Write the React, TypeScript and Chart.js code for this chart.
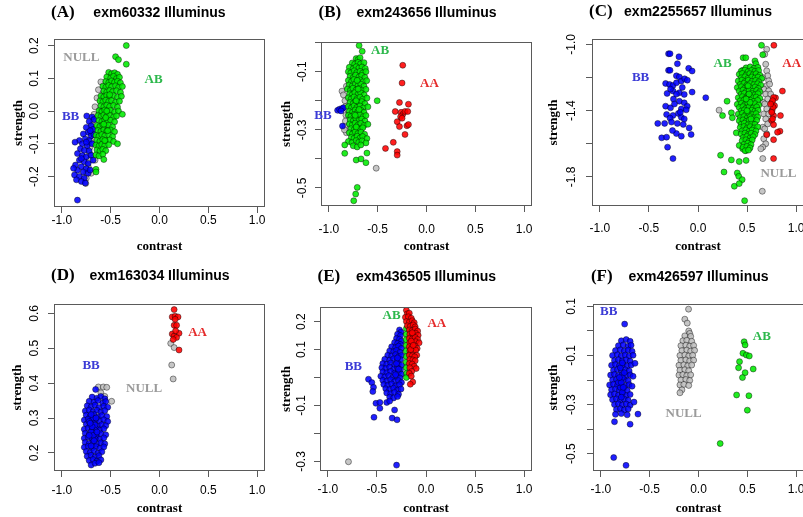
import React, { useEffect, useRef } from 'react';
import { Chart, registerables } from 'chart.js';
Chart.register(...registerables);

type Pt = [number, number];

// ---------- shared axis data ----------
const xTicks = [-1, -0.5, 0, 0.5, 1];
const xRange: [number, number] = [-1.08, 1.08];

const GENO_COLOR: Record<string, string> = { AA: 'rgba(255,0,0,0.88)', AB: 'rgba(0,235,0,0.88)', BB: 'rgba(0,0,255,0.88)', NULL: 'rgba(190,190,190,0.88)' };
const TAG_COLOR: Record<string, string> = { AA: '#e52b2b', AB: '#2db84c', BB: '#3b3bd6', NULL: '#9b9b9b' };

// ---------- panel A: exm60332 ----------
const aAB: Pt[] = [
  [-0.34, 0.2], [-0.45, 0.166], [-0.42, 0.157], [-0.34, 0.143],
  [-0.52, 0.118], [-0.49, 0.114], [-0.46, 0.117], [-0.43, 0.112],
  [-0.54, 0.104], [-0.5, 0.101], [-0.47, 0.106], [-0.44, 0.099], [-0.41, 0.103],
  [-0.55, 0.09], [-0.52, 0.087], [-0.49, 0.092], [-0.46, 0.088], [-0.43, 0.091], [-0.4, 0.086],
  [-0.58, 0.076], [-0.55, 0.073], [-0.52, 0.078], [-0.49, 0.074], [-0.45, 0.077], [-0.42, 0.072], [-0.38, 0.075],
  [-0.57, 0.061], [-0.54, 0.058], [-0.51, 0.063], [-0.48, 0.059], [-0.44, 0.062], [-0.4, 0.057],
  [-0.6, 0.046], [-0.57, 0.043], [-0.54, 0.048], [-0.51, 0.044], [-0.47, 0.047], [-0.43, 0.042], [-0.39, 0.045],
  [-0.61, 0.031], [-0.58, 0.028], [-0.55, 0.033], [-0.52, 0.029], [-0.49, 0.032], [-0.45, 0.027], [-0.41, 0.03],
  [-0.6, 0.016], [-0.57, 0.013], [-0.54, 0.018], [-0.51, 0.014], [-0.47, 0.017], [-0.43, 0.012],
  [-0.62, 0.001], [-0.59, -0.002], [-0.56, 0.003], [-0.53, -0.001], [-0.5, 0.002], [-0.46, -0.003], [-0.42, 0.0], [-0.38, -0.01],
  [-0.63, -0.014], [-0.6, -0.017], [-0.57, -0.012], [-0.54, -0.016], [-0.51, -0.013], [-0.47, -0.018], [-0.44, -0.015],
  [-0.62, -0.029], [-0.59, -0.032], [-0.56, -0.027], [-0.53, -0.031], [-0.5, -0.028], [-0.46, -0.033],
  [-0.64, -0.044], [-0.61, -0.047], [-0.58, -0.042], [-0.55, -0.046], [-0.52, -0.043], [-0.48, -0.048],
  [-0.63, -0.059], [-0.6, -0.062], [-0.57, -0.057], [-0.54, -0.061], [-0.5, -0.058], [-0.46, -0.063],
  [-0.65, -0.074], [-0.62, -0.077], [-0.59, -0.072], [-0.56, -0.076], [-0.52, -0.073], [-0.48, -0.078],
  [-0.64, -0.089], [-0.61, -0.092], [-0.58, -0.087], [-0.55, -0.091], [-0.51, -0.088], [-0.47, -0.093], [-0.43, -0.1],
  [-0.65, -0.104], [-0.62, -0.107], [-0.59, -0.102], [-0.56, -0.106], [-0.52, -0.103],
  [-0.64, -0.119], [-0.61, -0.122], [-0.58, -0.117], [-0.55, -0.121],
  [-0.65, -0.134], [-0.62, -0.137], [-0.58, -0.132],
  [-0.57, -0.148], [-0.65, -0.178], [-0.65, -0.186],
  [-0.55, -0.02], [-0.53, -0.06], [-0.56, -0.09], [-0.51, 0.05], [-0.54, 0.0], [-0.57, -0.04],
];
const aBB: Pt[] = [
  [-0.745, -0.015], [-0.69, -0.018], [-0.67, -0.026], [-0.72, -0.032], [-0.7, -0.045], [-0.75, -0.05], [-0.68, -0.056],
  [-0.73, -0.065], [-0.78, -0.07], [-0.7, -0.076], [-0.76, -0.085], [-0.82, -0.09], [-0.865, -0.095], [-0.72, -0.09],
  [-0.79, -0.1], [-0.74, -0.106], [-0.69, -0.1], [-0.81, -0.115], [-0.77, -0.12], [-0.72, -0.122], [-0.84, -0.13],
  [-0.79, -0.136], [-0.75, -0.14], [-0.7, -0.135], [-0.82, -0.15], [-0.77, -0.155], [-0.73, -0.16], [-0.86, -0.165],
  [-0.8, -0.17], [-0.75, -0.176], [-0.84, -0.181], [-0.78, -0.186], [-0.73, -0.19], [-0.87, -0.195], [-0.82, -0.2],
  [-0.77, -0.205], [-0.85, -0.21], [-0.8, -0.215], [-0.76, -0.22], [-0.84, -0.272], [-0.67, -0.072], [-0.68, -0.15],
  [-0.71, -0.18], [-0.88, -0.175], [-0.75, -0.095], [-0.8, -0.145], [-0.71, -0.06],
];
const aNULL: Pt[] = [
  [-0.6, 0.089], [-0.625, 0.065], [-0.64, 0.04], [-0.66, 0.013], [-0.67, -0.01], [-0.68, -0.028], [-0.69, -0.05],
  [-0.7, -0.068], [-0.705, -0.09], [-0.71, -0.11], [-0.715, -0.13], [-0.72, -0.15], [-0.73, -0.17], [-0.745, -0.19],
  [-0.75, -0.205], [-0.755, -0.221], [-0.58, 0.05], [-0.6, 0.0], [-0.62, -0.05], [-0.64, -0.1], [-0.66, -0.15], [-0.7, -0.19],
];
const aYTicks = [-0.2, -0.1, 0, 0.1, 0.2];
const aYLabels = [-0.2, -0.1, 0, 0.1, 0.2];
const aYRange: [number, number] = [-0.293, 0.22];

// ---------- panel B: exm243656 ----------
const bAB: Pt[] = [
  [-0.69, -0.01], [-0.658, -0.03],
  [-0.72, -0.055], [-0.7, -0.058], [-0.68, -0.052],
  [-0.76, -0.07], [-0.735, -0.074], [-0.7, -0.068], [-0.675, -0.073], [-0.64, -0.069],
  [-0.79, -0.085], [-0.752, -0.09], [-0.72, -0.083], [-0.693, -0.088], [-0.66, -0.084], [-0.627, -0.089],
  [-0.8, -0.1], [-0.775, -0.104], [-0.74, -0.097], [-0.713, -0.103], [-0.68, -0.099], [-0.654, -0.105], [-0.62, -0.1],
  [-0.782, -0.116], [-0.75, -0.12], [-0.726, -0.112], [-0.69, -0.118], [-0.664, -0.113], [-0.63, -0.12],
  [-0.8, -0.13], [-0.768, -0.134], [-0.743, -0.127], [-0.71, -0.133], [-0.683, -0.128], [-0.65, -0.135], [-0.612, -0.131],
  [-0.792, -0.146], [-0.76, -0.149], [-0.728, -0.142], [-0.7, -0.148], [-0.672, -0.143], [-0.64, -0.15],
  [-0.81, -0.16], [-0.779, -0.164], [-0.753, -0.157], [-0.72, -0.163], [-0.688, -0.158], [-0.662, -0.165], [-0.62, -0.161],
  [-0.787, -0.176], [-0.76, -0.179], [-0.733, -0.172], [-0.7, -0.178], [-0.674, -0.173], [-0.638, -0.18],
  [-0.8, -0.19], [-0.772, -0.194], [-0.742, -0.187], [-0.711, -0.193], [-0.68, -0.188], [-0.654, -0.195], [-0.61, -0.191],
  [-0.783, -0.206], [-0.75, -0.209], [-0.724, -0.202], [-0.69, -0.208], [-0.662, -0.203], [-0.63, -0.21],
  [-0.8, -0.22], [-0.768, -0.224], [-0.741, -0.217], [-0.712, -0.223], [-0.68, -0.218], [-0.648, -0.225], [-0.6, -0.221],
  [-0.79, -0.236], [-0.757, -0.239], [-0.73, -0.232], [-0.703, -0.238], [-0.668, -0.233], [-0.64, -0.24],
  [-0.8, -0.25], [-0.774, -0.254], [-0.74, -0.247], [-0.71, -0.253], [-0.684, -0.248], [-0.65, -0.255], [-0.62, -0.251],
  [-0.781, -0.266], [-0.75, -0.269], [-0.722, -0.262], [-0.69, -0.268], [-0.663, -0.263], [-0.63, -0.27],
  [-0.79, -0.28], [-0.762, -0.284], [-0.73, -0.277], [-0.7, -0.283], [-0.673, -0.278], [-0.64, -0.285], [-0.6, -0.281],
  [-0.772, -0.296], [-0.74, -0.299], [-0.713, -0.292], [-0.68, -0.298], [-0.652, -0.293],
  [-0.79, -0.31], [-0.758, -0.314], [-0.73, -0.307], [-0.702, -0.313], [-0.67, -0.308], [-0.634, -0.315],
  [-0.77, -0.326], [-0.742, -0.329], [-0.71, -0.322], [-0.68, -0.328], [-0.653, -0.323], [-0.61, -0.33],
  [-0.8, -0.34], [-0.763, -0.344], [-0.72, -0.337], [-0.694, -0.343], [-0.66, -0.338], [-0.62, -0.345],
  [-0.75, -0.355], [-0.71, -0.359], [-0.672, -0.352],
  [-0.72, -0.2], [-0.7, -0.16], [-0.73, -0.25], [-0.71, -0.13], [-0.69, -0.23], [-0.72, -0.29],
  [-0.505, -0.2], [-0.837, -0.352], [-0.837, -0.381], [-0.72, -0.404], [-0.67, -0.4], [-0.62, -0.413], [-0.61, -0.38],
  [-0.709, -0.498], [-0.725, -0.521], [-0.745, -0.544],
];
const bBB: Pt[] = [
  [-0.91, -0.233], [-0.89, -0.229], [-0.865, -0.227], [-0.85, -0.224], [-0.875, -0.235], [-0.86, -0.287],
];
const bAA: Pt[] = [
  [-0.243, -0.078], [-0.25, -0.139], [-0.277, -0.206], [-0.185, -0.212], [-0.32, -0.237], [-0.26, -0.24],
  [-0.243, -0.247], [-0.22, -0.237], [-0.192, -0.237], [-0.3, -0.272], [-0.277, -0.289], [-0.2, -0.286],
  [-0.185, -0.282], [-0.22, -0.316], [-0.34, -0.343], [-0.42, -0.364], [-0.3, -0.375], [-0.3, -0.387],
  [-0.265, -0.255], [-0.25, -0.26],
];
const bNULL: Pt[] = [
  [-0.865, -0.167], [-0.85, -0.18], [-0.835, -0.2], [-0.83, -0.22], [-0.825, -0.25], [-0.83, -0.27],
  [-0.835, -0.29], [-0.82, -0.31], [-0.82, -0.15], [-0.515, -0.432], [-0.84, -0.3], [-0.81, -0.23],
];
const bYTicks = [-0.5, -0.4, -0.3, -0.2, -0.1, 0];
const bYLabels = [-0.5, -0.3, -0.1];
const bYRange: [number, number] = [-0.562, 0.002];

// ---------- panel C: exm2255657 ----------
const cBB: Pt[] = [
  [-0.3, -1.057], [-0.285, -1.057], [-0.194, -1.075], [-0.3, -1.157], [-0.285, -1.157], [-0.21, -1.117],
  [-0.095, -1.145], [-0.06, -1.161], [-0.22, -1.19], [-0.19, -1.197], [-0.33, -1.236], [-0.29, -1.242],
  [-0.255, -1.248], [-0.22, -1.232], [-0.17, -1.222], [-0.136, -1.208], [-0.109, -1.216], [-0.06, -1.288],
  [-0.315, -1.296], [-0.255, -1.282], [-0.19, -1.292], [-0.14, -1.302], [0.079, -1.322], [-0.33, -1.373],
  [-0.28, -1.383], [-0.19, -1.343], [-0.14, -1.353], [-0.11, -1.373], [-0.17, -1.39], [-0.12, -1.395],
  [-0.32, -1.423], [-0.255, -1.429], [-0.2, -1.417], [-0.285, -1.445], [-0.17, -1.44], [-0.41, -1.477],
  [-0.34, -1.477], [-0.27, -1.469], [-0.21, -1.477], [-0.15, -1.483], [-0.09, -1.504], [-0.37, -1.564],
  [-0.32, -1.56], [-0.22, -1.538], [-0.17, -1.554], [-0.07, -1.544], [-0.31, -1.62], [-0.255, -1.689],
  [-0.25, -1.33], [-0.22, -1.3], [-0.28, -1.27], [-0.16, -1.26], [-0.24, -1.36], [-0.18, -1.41],
  [-0.26, -1.52], [-0.14, -1.45],
];
const cAB: Pt[] = [
  [0.647, -1.006], [0.66, -1.063], [0.46, -1.081], [0.487, -1.081], [0.58, -1.1], [0.59, -1.117], [0.455, -1.157],
  [0.296, -1.343], [0.25, -1.43], [0.34, -1.413], [0.35, -1.443], [0.39, -1.534], [0.42, -1.61], [0.455, -1.63],
  [0.49, -1.64], [0.23, -1.669], [0.34, -1.697], [0.42, -1.707], [0.49, -1.7], [0.265, -1.77], [0.4, -1.776],
  [0.415, -1.796], [0.45, -1.816], [0.37, -1.856], [0.42, -1.84], [0.475, -1.943],
  [0.49, -1.142], [0.532, -1.136], [0.57, -1.145], [0.61, -1.139],
  [0.44, -1.162], [0.478, -1.156], [0.51, -1.165], [0.548, -1.157], [0.58, -1.163], [0.618, -1.158],
  [0.42, -1.181], [0.452, -1.176], [0.49, -1.185], [0.528, -1.177], [0.56, -1.184], [0.592, -1.178], [0.63, -1.186],
  [0.44, -1.202], [0.478, -1.196], [0.51, -1.205], [0.548, -1.197], [0.58, -1.203], [0.612, -1.198], [0.65, -1.206],
  [0.41, -1.221], [0.448, -1.216], [0.48, -1.225], [0.512, -1.217], [0.55, -1.224], [0.588, -1.218], [0.62, -1.226],
  [0.43, -1.242], [0.468, -1.236], [0.5, -1.245], [0.532, -1.237], [0.57, -1.243], [0.608, -1.238], [0.64, -1.246],
  [0.4, -1.261], [0.442, -1.256], [0.475, -1.265], [0.508, -1.257], [0.545, -1.264], [0.582, -1.258], [0.615, -1.266],
  [0.42, -1.282], [0.458, -1.276], [0.49, -1.285], [0.522, -1.277], [0.56, -1.283], [0.598, -1.278], [0.63, -1.286],
  [0.44, -1.301], [0.472, -1.296], [0.51, -1.305], [0.548, -1.297], [0.58, -1.304], [0.612, -1.298],
  [0.41, -1.322], [0.452, -1.316], [0.485, -1.325], [0.518, -1.317], [0.555, -1.323], [0.592, -1.318], [0.63, -1.326],
  [0.43, -1.341], [0.468, -1.336], [0.5, -1.345], [0.532, -1.337], [0.57, -1.344], [0.608, -1.338],
  [0.4, -1.362], [0.442, -1.356], [0.475, -1.365], [0.508, -1.357], [0.545, -1.363], [0.582, -1.358], [0.62, -1.366],
  [0.42, -1.381], [0.458, -1.376], [0.49, -1.385], [0.522, -1.377], [0.56, -1.384], [0.598, -1.378],
  [0.44, -1.402], [0.472, -1.396], [0.51, -1.405], [0.548, -1.397], [0.58, -1.403], [0.612, -1.398],
  [0.41, -1.421], [0.452, -1.416], [0.485, -1.425], [0.518, -1.417], [0.555, -1.424], [0.592, -1.418],
  [0.43, -1.442], [0.468, -1.436], [0.5, -1.445], [0.532, -1.437], [0.57, -1.443], [0.608, -1.438],
  [0.42, -1.461], [0.458, -1.456], [0.49, -1.465], [0.522, -1.457], [0.56, -1.464], [0.598, -1.458],
  [0.44, -1.482], [0.472, -1.476], [0.51, -1.485], [0.548, -1.477], [0.58, -1.483],
  [0.43, -1.501], [0.468, -1.496], [0.5, -1.505], [0.532, -1.497], [0.57, -1.504], [0.608, -1.498],
  [0.45, -1.522], [0.488, -1.516], [0.52, -1.525], [0.552, -1.517], [0.59, -1.523],
  [0.44, -1.541], [0.478, -1.536], [0.51, -1.545], [0.542, -1.537], [0.58, -1.544],
  [0.46, -1.562], [0.498, -1.556], [0.53, -1.565], [0.562, -1.557],
  [0.45, -1.581], [0.488, -1.576], [0.52, -1.585], [0.552, -1.577],
  [0.47, -1.602], [0.508, -1.596], [0.54, -1.605],
  [0.46, -1.621], [0.498, -1.616], [0.53, -1.625],
  [0.48, -1.642], [0.515, -1.638],
  [0.52, -1.3], [0.5, -1.4], [0.53, -1.35], [0.51, -1.25], [0.54, -1.45], [0.49, -1.33],
];
const cAA: Pt[] = [
  [0.773, -1.006], [0.86, -1.282], [0.79, -1.323], [0.77, -1.32], [0.755, -1.35], [0.78, -1.37], [0.755, -1.4],
  [0.77, -1.43], [0.75, -1.46], [0.77, -1.485], [0.84, -1.43], [0.835, -1.524], [0.81, -1.53], [0.7, -1.545],
  [0.77, -1.575], [0.77, -1.689], [0.76, -1.34], [0.765, -1.38], [0.75, -1.41], [0.76, -1.45], [0.74, -1.36],
];
const cNULL: Pt[] = [
  [0.7, -1.03], [0.68, -1.06], [0.69, -1.12], [0.7, -1.16], [0.71, -1.19], [0.72, -1.22], [0.66, -1.2],
  [0.7, -1.25], [0.73, -1.24], [0.67, -1.27], [0.72, -1.28], [0.69, -1.3], [0.74, -1.3], [0.71, -1.33],
  [0.66, -1.35], [0.68, -1.36], [0.7, -1.39], [0.67, -1.42], [0.72, -1.42], [0.69, -1.45], [0.71, -1.48],
  [0.66, -1.5], [0.68, -1.51], [0.7, -1.54], [0.67, -1.57], [0.69, -1.6], [0.66, -1.62], [0.64, -1.63],
  [0.215, -1.397], [0.66, -1.689], [0.655, -1.886],
];
const cYTicks = [-1.8, -1.6, -1.4, -1.2, -1.0];
const cYLabels = [-1.8, -1.4, -1.0];
const cYRange: [number, number] = [-1.975, -0.968];

// ---------- panel D: exm163034 ----------
const dBB: Pt[] = [
  [-0.654, 0.382],
  [-0.69, 0.36], [-0.64, 0.357], [-0.6, 0.362], [-0.56, 0.355],
  [-0.72, 0.348], [-0.67, 0.345], [-0.63, 0.35], [-0.58, 0.343], [-0.55, 0.347],
  [-0.74, 0.335], [-0.7, 0.332], [-0.66, 0.337], [-0.62, 0.33], [-0.57, 0.334], [-0.53, 0.331],
  [-0.76, 0.32], [-0.72, 0.323], [-0.68, 0.318], [-0.64, 0.322], [-0.6, 0.317], [-0.56, 0.321],
  [-0.75, 0.308], [-0.71, 0.305], [-0.67, 0.31], [-0.63, 0.303], [-0.59, 0.307], [-0.54, 0.304],
  [-0.77, 0.294], [-0.73, 0.297], [-0.69, 0.292], [-0.65, 0.296], [-0.61, 0.291], [-0.57, 0.295], [-0.53, 0.29],
  [-0.75, 0.282], [-0.71, 0.279], [-0.67, 0.284], [-0.63, 0.277], [-0.59, 0.281], [-0.55, 0.278],
  [-0.77, 0.268], [-0.73, 0.271], [-0.69, 0.266], [-0.65, 0.27], [-0.61, 0.265], [-0.57, 0.269],
  [-0.76, 0.256], [-0.72, 0.253], [-0.68, 0.258], [-0.64, 0.251], [-0.6, 0.255], [-0.55, 0.252],
  [-0.77, 0.242], [-0.73, 0.245], [-0.69, 0.24], [-0.65, 0.244], [-0.61, 0.239], [-0.57, 0.243],
  [-0.76, 0.23], [-0.72, 0.227], [-0.68, 0.232], [-0.64, 0.225], [-0.6, 0.229], [-0.56, 0.226],
  [-0.77, 0.216], [-0.73, 0.219], [-0.69, 0.214], [-0.65, 0.218], [-0.61, 0.213], [-0.57, 0.217],
  [-0.75, 0.204], [-0.71, 0.201], [-0.67, 0.206], [-0.63, 0.199], [-0.59, 0.203],
  [-0.74, 0.19], [-0.7, 0.193], [-0.66, 0.188], [-0.62, 0.192],
  [-0.72, 0.178], [-0.68, 0.181], [-0.64, 0.176], [-0.6, 0.18],
  [-0.7, 0.165], [-0.66, 0.17], [-0.62, 0.172],
  [-0.7, 0.26], [-0.68, 0.3], [-0.66, 0.24], [-0.7, 0.22], [-0.72, 0.29], [-0.66, 0.28], [-0.68, 0.25],
  [-0.7, 0.31], [-0.64, 0.26], [-0.72, 0.25], [-0.69, 0.275], [-0.67, 0.235], [-0.71, 0.285], [-0.65, 0.3],
];
const dNULL: Pt[] = [
  [-0.626, 0.389], [-0.575, 0.389], [-0.54, 0.388], [-0.49, 0.348], [0.115, 0.514], [0.15, 0.502],
  [0.125, 0.452], [0.14, 0.412], [-0.6, 0.372], [-0.56, 0.362],
];
const dAA: Pt[] = [
  [0.15, 0.611], [0.13, 0.59], [0.16, 0.592], [0.19, 0.59], [0.16, 0.583], [0.15, 0.566], [0.175, 0.566],
  [0.13, 0.541], [0.2, 0.543], [0.15, 0.535], [0.175, 0.531], [0.2, 0.495], [0.14, 0.525], [0.165, 0.55],
];
const dYTicks = [0.2, 0.3, 0.4, 0.5, 0.6];
const dYLabels = [0.2, 0.3, 0.4, 0.5, 0.6];
const dYRange: [number, number] = [0.148, 0.627];

// ---------- panel E: exm436505 ----------
const eAA: Pt[] = [
  [-0.2, 0.24], [-0.19, 0.228], [-0.17, 0.23], [-0.21, 0.215], [-0.18, 0.217], [-0.15, 0.212],
  [-0.2, 0.2], [-0.17, 0.198], [-0.14, 0.203], [-0.12, 0.196],
  [-0.19, 0.185], [-0.16, 0.183], [-0.13, 0.188], [-0.11, 0.181],
  [-0.17, 0.17], [-0.14, 0.168], [-0.11, 0.173], [-0.085, 0.166],
  [-0.165, 0.155], [-0.135, 0.153], [-0.105, 0.158], [-0.08, 0.151],
  [-0.17, 0.14], [-0.14, 0.138], [-0.11, 0.143], [-0.085, 0.136],
  [-0.165, 0.125], [-0.135, 0.123], [-0.105, 0.128], [-0.07, 0.124],
  [-0.17, 0.11], [-0.14, 0.108], [-0.11, 0.113], [-0.09, 0.104],
  [-0.165, 0.095], [-0.135, 0.093], [-0.105, 0.098], [-0.094, 0.08],
  [-0.17, 0.08], [-0.14, 0.078], [-0.115, 0.074],
  [-0.165, 0.065], [-0.135, 0.063], [-0.11, 0.06],
  [-0.17, 0.05], [-0.14, 0.048], [-0.12, 0.04],
  [-0.165, 0.035], [-0.1, 0.032], [-0.145, 0.022],
  [-0.17, 0.015], [-0.15, 0.005], [-0.135, -0.016], [-0.16, -0.024],
  [-0.15, 0.13], [-0.14, 0.16], [-0.155, 0.1], [-0.13, 0.115],
];
const eAB: Pt[] = [
  [-0.2, 0.175], [-0.2, 0.155], [-0.202, 0.135], [-0.2, 0.115], [-0.202, 0.095],
  [-0.2, 0.075], [-0.202, 0.055], [-0.2, 0.035], [-0.198, 0.015], [-0.2, 0.0],
];
const eBB: Pt[] = [
  [-0.27, 0.17], [-0.255, 0.162], [-0.29, 0.155], [-0.26, 0.15],
  [-0.3, 0.14], [-0.27, 0.137], [-0.25, 0.13],
  [-0.32, 0.125], [-0.29, 0.122], [-0.26, 0.118],
  [-0.35, 0.11], [-0.31, 0.107], [-0.28, 0.112], [-0.25, 0.104],
  [-0.37, 0.095], [-0.33, 0.092], [-0.3, 0.097], [-0.265, 0.09],
  [-0.39, 0.08], [-0.35, 0.077], [-0.31, 0.082], [-0.28, 0.075], [-0.25, 0.079],
  [-0.42, 0.065], [-0.37, 0.062], [-0.33, 0.067], [-0.295, 0.06], [-0.26, 0.064],
  [-0.44, 0.05], [-0.4, 0.047], [-0.36, 0.052], [-0.32, 0.045], [-0.28, 0.049], [-0.25, 0.044],
  [-0.45, 0.035], [-0.41, 0.032], [-0.37, 0.037], [-0.33, 0.03], [-0.29, 0.034], [-0.26, 0.028],
  [-0.44, 0.02], [-0.4, 0.017], [-0.36, 0.022], [-0.32, 0.015], [-0.28, 0.019], [-0.25, 0.012],
  [-0.46, 0.005], [-0.42, 0.002], [-0.38, 0.007], [-0.34, 0.0], [-0.3, 0.004], [-0.265, -0.002],
  [-0.44, -0.01], [-0.4, -0.013], [-0.36, -0.008], [-0.32, -0.015], [-0.28, -0.011], [-0.25, -0.018],
  [-0.43, -0.025], [-0.39, -0.028], [-0.35, -0.023], [-0.31, -0.03], [-0.27, -0.026],
  [-0.41, -0.04], [-0.37, -0.043], [-0.33, -0.038], [-0.29, -0.045], [-0.255, -0.041],
  [-0.4, -0.055], [-0.36, -0.058], [-0.32, -0.053], [-0.28, -0.06],
  [-0.37, -0.07], [-0.33, -0.073], [-0.29, -0.068],
  [-0.3, 0.05], [-0.28, 0.03], [-0.31, 0.01], [-0.29, 0.07],
  [-0.586, -0.006], [-0.552, -0.018], [-0.535, -0.035], [-0.542, -0.05], [-0.51, -0.092], [-0.47, -0.089],
  [-0.4, -0.089], [-0.37, -0.084], [-0.47, -0.11], [-0.53, -0.142], [-0.32, -0.116], [-0.345, -0.145],
  [-0.295, -0.151], [-0.3, -0.313],
];
const eNULL: Pt[] = [[-0.79, -0.301]];
const eYTicks = [-0.3, -0.2, -0.1, 0, 0.1, 0.2];
const eYLabels = [-0.3, -0.1, 0.1, 0.2];
const eYRange: [number, number] = [-0.334, 0.252];

// ---------- panel F: exm426597 ----------
const fBB: Pt[] = [
  [-0.756, 0.028], [-0.79, -0.04], [-0.74, -0.035], [-0.7, -0.042],
  [-0.82, -0.06], [-0.77, -0.057], [-0.72, -0.062], [-0.69, -0.058],
  [-0.85, -0.08], [-0.8, -0.077], [-0.76, -0.082], [-0.72, -0.078], [-0.68, -0.083],
  [-0.88, -0.1], [-0.83, -0.097], [-0.79, -0.102], [-0.75, -0.098], [-0.71, -0.103], [-0.67, -0.099],
  [-0.86, -0.12], [-0.82, -0.117], [-0.78, -0.122], [-0.74, -0.118], [-0.7, -0.123],
  [-0.89, -0.14], [-0.85, -0.137], [-0.81, -0.142], [-0.77, -0.138], [-0.73, -0.143], [-0.69, -0.139], [-0.65, -0.132],
  [-0.87, -0.16], [-0.83, -0.157], [-0.79, -0.162], [-0.75, -0.158], [-0.71, -0.163],
  [-0.9, -0.18], [-0.86, -0.177], [-0.82, -0.182], [-0.78, -0.178], [-0.74, -0.183], [-0.7, -0.179], [-0.67, -0.185],
  [-0.88, -0.2], [-0.84, -0.197], [-0.8, -0.202], [-0.76, -0.198], [-0.72, -0.203],
  [-0.91, -0.22], [-0.87, -0.217], [-0.83, -0.222], [-0.79, -0.218], [-0.75, -0.223], [-0.71, -0.219], [-0.68, -0.225],
  [-0.89, -0.24], [-0.85, -0.237], [-0.81, -0.242], [-0.77, -0.238], [-0.73, -0.243],
  [-0.9, -0.26], [-0.86, -0.257], [-0.82, -0.262], [-0.78, -0.258], [-0.74, -0.263], [-0.7, -0.259],
  [-0.88, -0.28], [-0.84, -0.277], [-0.8, -0.282], [-0.76, -0.278], [-0.72, -0.283],
  [-0.86, -0.3], [-0.82, -0.297], [-0.78, -0.302], [-0.74, -0.298], [-0.7, -0.303],
  [-0.84, -0.32], [-0.8, -0.317], [-0.76, -0.322], [-0.72, -0.318],
  [-0.85, -0.34], [-0.79, -0.337], [-0.73, -0.342],
  [-0.62, -0.339], [-0.86, -0.37], [-0.7, -0.38], [-0.868, -0.516], [-0.742, -0.548], [-0.66, -0.29],
  [-0.8, -0.15], [-0.78, -0.19], [-0.8, -0.23], [-0.78, -0.25], [-0.82, -0.21], [-0.76, -0.17], [-0.78, -0.13],
  [-0.79, -0.21], [-0.77, -0.23], [-0.81, -0.19], [-0.79, -0.27],
];
const fNULL: Pt[] = [
  [-0.102, 0.089], [-0.14, 0.048], [-0.115, 0.032], [-0.1, 0.0], [-0.09, -0.01],
  [-0.14, -0.02], [-0.08, -0.022],
  [-0.16, -0.04], [-0.12, -0.038], [-0.07, -0.042],
  [-0.18, -0.06], [-0.13, -0.058], [-0.09, -0.062], [-0.05, -0.059],
  [-0.17, -0.08], [-0.12, -0.078], [-0.08, -0.082], [-0.04, -0.079],
  [-0.19, -0.1], [-0.14, -0.098], [-0.1, -0.102], [-0.06, -0.099],
  [-0.18, -0.12], [-0.13, -0.118], [-0.09, -0.122], [-0.05, -0.119],
  [-0.2, -0.14], [-0.15, -0.138], [-0.11, -0.142], [-0.07, -0.139],
  [-0.19, -0.16], [-0.14, -0.158], [-0.1, -0.162],
  [-0.2, -0.18], [-0.16, -0.178], [-0.12, -0.182], [-0.08, -0.179],
  [-0.18, -0.2], [-0.13, -0.198], [-0.09, -0.202],
  [-0.19, -0.22], [-0.15, -0.218], [-0.1, -0.222],
  [-0.17, -0.24], [-0.19, -0.252],
];
const fAB: Pt[] = [
  [0.467, -0.044], [0.477, -0.057], [0.455, -0.091], [0.49, -0.098], [0.52, -0.102], [0.42, -0.125],
  [0.41, -0.15], [0.56, -0.155], [0.477, -0.17], [0.45, -0.19], [0.39, -0.261], [0.516, -0.264],
  [0.5, -0.323], [0.222, -0.459],
];
const fYTicks = [-0.5, -0.4, -0.3, -0.2, -0.1, 0, 0.1];
const fYLabels = [-0.5, -0.3, -0.1, 0.1];
const fYRange: [number, number] = [-0.571, 0.11];

// ---------- panel definitions ----------
interface Frame {
  left: number; top: number; width: number; height: number;
  boxL: number; boxT: number; boxR: number; boxB: number;
  titleY: number; xTickY: number; xTitleY: number; yTitleX: number; yLabelX: number;
}
interface PanelDef {
  tag: string; title: string;
  series: { geno: string; pts: Pt[] }[];
  yTicks: number[]; yLabels: number[]; yRange: [number, number];
  tags: { geno: string; x: number; y: number }[];
  frame: Frame;
}

const panels: PanelDef[] = [
  {
    tag: '(A)', title: 'exm60332 Illuminus',
    series: [{ geno: 'AB', pts: aAB }, { geno: 'BB', pts: aBB }, { geno: 'NULL', pts: aNULL }],
    yTicks: aYTicks, yLabels: aYLabels, yRange: aYRange,
    tags: [{ geno: 'NULL', x: -0.8, y: 0.162 }, { geno: 'AB', x: -0.06, y: 0.095 }, { geno: 'BB', x: -0.91, y: -0.018 }],
    frame: { left: 0, top: 0, width: 268, height: 259, boxL: 54, boxT: 39, boxR: 265, boxB: 207, titleY: 12.7, xTickY: 220.5, xTitleY: 246.7, yTitleX: 18.3, yLabelX: 35 },
  },
  {
    tag: '(B)', title: 'exm243656 Illuminus',
    series: [{ geno: 'AB', pts: bAB }, { geno: 'BB', pts: bBB }, { geno: 'AA', pts: bAA }, { geno: 'NULL', pts: bNULL }],
    yTicks: bYTicks, yLabels: bYLabels, yRange: bYRange,
    tags: [{ geno: 'AB', x: -0.475, y: -0.028 }, { geno: 'AA', x: 0.03, y: -0.142 }, { geno: 'BB', x: -1.06, y: -0.25 }],
    frame: { left: 268, top: 0, width: 267, height: 259, boxL: 53, boxT: 42, boxR: 264, boxB: 206, titleY: 12.7, xTickY: 229.3, xTitleY: 246.7, yTitleX: 18.3, yLabelX: 34.3 },
  },
  {
    tag: '(C)', title: 'exm2255657 Illuminus',
    series: [{ geno: 'AA', pts: cAA }, { geno: 'AB', pts: cAB }, { geno: 'BB', pts: cBB }, { geno: 'NULL', pts: cNULL }],
    yTicks: cYTicks, yLabels: cYLabels, yRange: cYRange,
    tags: [{ geno: 'BB', x: -0.585, y: -1.2 }, { geno: 'AB', x: 0.25, y: -1.115 }, { geno: 'AA', x: 0.954, y: -1.115 }, { geno: 'NULL', x: 0.82, y: -1.78 }],
    frame: { left: 535, top: 0, width: 269, height: 259, boxL: 57, boxT: 39, boxR: 269, boxB: 206, titleY: 11.7, xTickY: 228.3, xTitleY: 246.7, yTitleX: 18.3, yLabelX: 36.7 },
  },
  {
    tag: '(D)', title: 'exm163034 Illuminus',
    series: [{ geno: 'AA', pts: dAA }, { geno: 'BB', pts: dBB }, { geno: 'NULL', pts: dNULL }],
    yTicks: dYTicks, yLabels: dYLabels, yRange: dYRange,
    tags: [{ geno: 'BB', x: -0.7, y: 0.449 }, { geno: 'NULL', x: -0.158, y: 0.385 }, { geno: 'AA', x: 0.39, y: 0.544 }],
    frame: { left: 0, top: 259, width: 268, height: 258, boxL: 54, boxT: 45, boxR: 265, boxB: 212, titleY: 17, xTickY: 232, xTitleY: 249.3, yTitleX: 17.3, yLabelX: 34.3 },
  },
  {
    tag: '(E)', title: 'exm436505 Illuminus',
    series: [{ geno: 'AA', pts: eAA }, { geno: 'AB', pts: eAB }, { geno: 'BB', pts: eBB }, { geno: 'NULL', pts: eNULL }],
    yTicks: eYTicks, yLabels: eYLabels, yRange: eYRange,
    tags: [{ geno: 'BB', x: -0.74, y: 0.038 }, { geno: 'AB', x: -0.35, y: 0.222 }, { geno: 'AA', x: 0.11, y: 0.193 }],
    frame: { left: 268, top: 259, width: 267, height: 258, boxL: 52, boxT: 48, boxR: 264, boxB: 212, titleY: 17.7, xTickY: 231, xTitleY: 249.3, yTitleX: 18.3, yLabelX: 33.3 },
  },
  {
    tag: '(F)', title: 'exm426597 Illuminus',
    series: [{ geno: 'BB', pts: fBB }, { geno: 'NULL', pts: fNULL }, { geno: 'AB', pts: fAB }],
    yTicks: fYTicks, yLabels: fYLabels, yRange: fYRange,
    tags: [{ geno: 'BB', x: -0.92, y: 0.08 }, { geno: 'NULL', x: -0.153, y: -0.336 }, { geno: 'AB', x: 0.648, y: -0.023 }],
    frame: { left: 535, top: 259, width: 269, height: 258, boxL: 58, boxT: 45, boxR: 269, boxB: 212, titleY: 17.7, xTickY: 230.3, xTitleY: 249.3, yTitleX: 18.3, yLabelX: 36.7 },
  },
];

const SANS = '"Liberation Sans", Arial, sans-serif';
const SERIF = '"Liberation Serif", "Times New Roman", serif';
const AXIS_COLOR = '#5a5a5a';

function decor(def: PanelDef) {
  return {
    id: 'decor',
    afterDraw(chart: any) {
      const { ctx, chartArea: a, scales } = chart;
      const xs = scales.x;
      const ys = scales.y;
      const f = def.frame;
      ctx.save();
      ctx.strokeStyle = AXIS_COLOR;
      ctx.lineWidth = 1;
      const l = Math.round(a.left), t = Math.round(a.top), r = Math.round(a.right), b = Math.round(a.bottom);
      ctx.strokeRect(l + 0.5, t + 0.5, r - l - 1, b - t - 1);
      ctx.fillStyle = '#000';
      ctx.textAlign = 'center';
      ctx.textBaseline = 'middle';
      ctx.font = `12px ${SANS}`;
      for (const v of def.yLabels) {
        const py = ys.getPixelForValue(v);
        ctx.save();
        ctx.translate(f.yLabelX, py);
        ctx.rotate(-Math.PI / 2);
        ctx.fillText(v.toFixed(1), 0, 0);
        ctx.restore();
      }
      ctx.font = `bold 17px ${SERIF}`;
      ctx.fillText(def.tag, xs.getPixelForValue(-1) + 1, f.titleY);
      ctx.font = `bold 14px ${SANS}`;
      ctx.fillText(def.title, (a.left + a.right) / 2, f.titleY);
      ctx.font = `bold 13px ${SERIF}`;
      for (const tg of def.tags) {
        ctx.fillStyle = TAG_COLOR[tg.geno];
        ctx.fillText(tg.geno, xs.getPixelForValue(tg.x), ys.getPixelForValue(tg.y));
      }
      ctx.restore();
    },
  };
}

function Panel({ def }: { def: PanelDef }) {
  const ref = useRef<HTMLCanvasElement>(null);
  const f = def.frame;
  useEffect(() => {
    if (!ref.current) return;
    const grid = { display: true, drawOnChartArea: false, drawTicks: true, tickLength: 6, color: AXIS_COLOR, lineWidth: 1 };
    const chart = new Chart(ref.current, {
      type: 'scatter',
      data: {
        datasets: def.series.map((s, i) => ({
          label: s.geno,
          data: s.pts.map(([x, y]) => ({ x, y })),
          pointRadius: 3,
          pointHoverRadius: 3,
          pointBorderWidth: 1,
          pointBackgroundColor: GENO_COLOR[s.geno],
          pointBorderColor: 'rgba(0,0,0,0.42)',
          order: i,
        })),
      },
      options: {
        animation: false,
        responsive: false,
        maintainAspectRatio: false,
        devicePixelRatio: 1,
        events: [],
        layout: { autoPadding: false, padding: { left: 0, top: f.boxT, right: f.width - f.boxR, bottom: 0 } },
        plugins: { legend: { display: false }, tooltip: { enabled: false }, title: { display: false } },
        scales: {
          x: {
            type: 'linear', min: xRange[0], max: xRange[1],
            afterBuildTicks: (s: any) => { s.ticks = xTicks.map((v) => ({ value: v })); },
            afterFit: (s: any) => { s.height = f.height - f.boxB; s.paddingLeft = 0; s.paddingRight = 0; s.paddingTop = 0; s.paddingBottom = 0; },
            grid, border: { display: false },
            ticks: {
              autoSkip: false, maxRotation: 0, minRotation: 0, color: '#000',
              font: { family: SANS, size: 12 },
              padding: f.xTickY - f.boxB - 6 - 7.2,
              callback: (v: any) => Number(v).toFixed(1),
            },
            title: {
              display: true, text: 'contrast', color: '#000',
              font: { family: SERIF, size: 13, weight: 'bold' },
              padding: { top: 0, bottom: f.height - f.xTitleY - 7.8 },
            },
          },
          y: {
            type: 'linear', min: def.yRange[0], max: def.yRange[1],
            afterBuildTicks: (s: any) => { s.ticks = def.yTicks.map((v) => ({ value: v })); },
            afterFit: (s: any) => { s.width = f.boxL; s.paddingLeft = 0; s.paddingRight = 0; s.paddingTop = 0; s.paddingBottom = 0; },
            grid, border: { display: false },
            ticks: { display: false },
            title: {
              display: true, text: 'strength', color: '#000',
              font: { family: SERIF, size: 13, weight: 'bold' },
              padding: { top: f.yTitleX - 7.8, bottom: 0 },
            },
          },
        },
      },
      plugins: [decor(def)],
    } as any);
    return () => chart.destroy();
  }, [def]);
  return (
    <canvas
      ref={ref}
      width={f.width}
      height={f.height}
      style={{ position: 'absolute', left: f.left, top: f.top, width: f.width, height: f.height }}
    />
  );
}

export default function App() {
  return (
    <div style={{ position: 'fixed', left: 0, top: 0, width: 803, height: 517, background: '#fff', overflow: 'hidden' }}>
      {panels.map((p) => (
        <Panel key={p.tag} def={p} />
      ))}
    </div>
  );
}
